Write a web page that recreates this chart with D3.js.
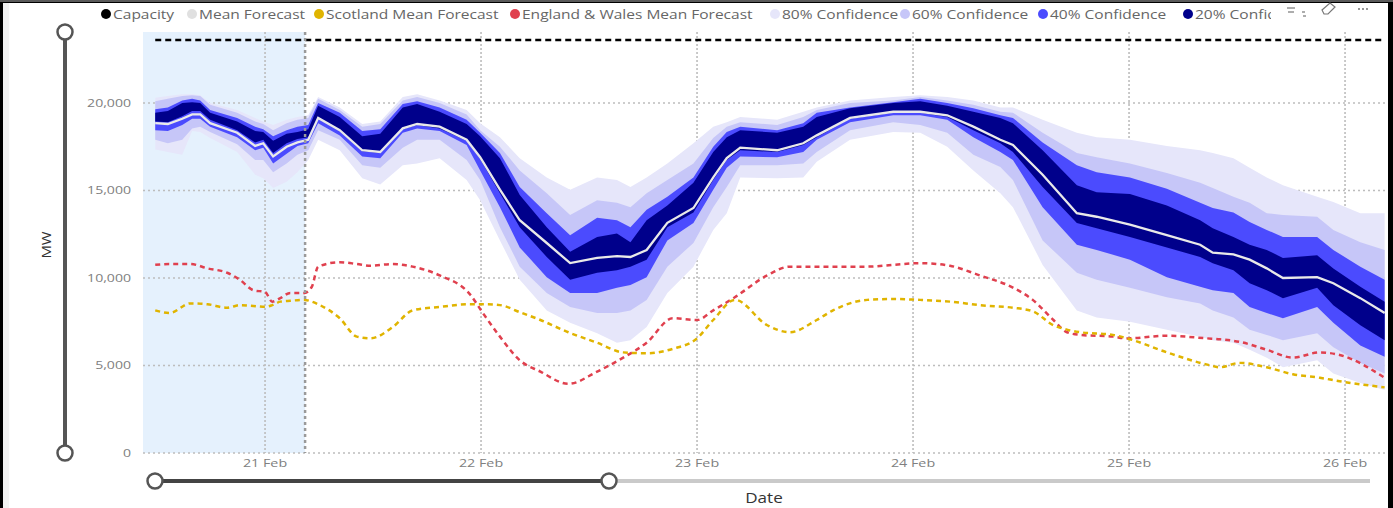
<!DOCTYPE html>
<html><head><meta charset="utf-8">
<script src="https://cdn.jsdelivr.net/npm/d3@7"></script>
<style>
html,body{margin:0;padding:0;background:#fff;overflow:hidden;}
svg{display:block;font-family:"Segoe UI","Open Sans",sans-serif;}
</style></head><body>
<svg id="c" width="1393" height="508"></svg>
<script>
// ---- data (hours are measured from 21 Feb 00:00) ----
const bandHours = [-12.2,-10.8,-9.2,-8.1,-7.2,-6.1,-3.1,-1.1,-0.2,0.9,
 2.4,3.6,4.8,5.9,8.3,10.8,12.8,15.3,16.9,19.4,
 22.4,23.9,26.1,28.3,31.3,33.9,36.9,39.1,40.6,42.4,
 44.7,47.6,49.8,51.3,52.8,56.9,59.8,61.3,65.0,69.8,
 72.8,75.8,78.7,81.7,83.1,86.4,90.2,92.4,96.1,100.2,
 103.9,105.3,107.6,109.4,111.3,113.1,116.9,118.7,121.7,124.4];
const p80hi = [20300,20400,20500,20500,20450,20000,19600,19150,18950,18750,
 19050,19200,19300,20350,19750,18800,18950,20350,20500,20150,
 19600,18850,18050,16850,15750,15050,15750,15600,15200,15750,
 16550,17700,18650,18900,19200,19050,19500,19750,20150,20350,
 20450,20350,20150,19750,19750,19050,18300,18050,17900,17550,
 17300,17150,16850,16300,15750,15300,14650,14350,13700,13700];
const p60hi = [20100,20250,20400,20450,20400,19900,19450,18950,18800,18450,
 18850,19050,19150,20250,19600,18650,18800,20150,20350,20000,
 19350,18450,17500,16150,14850,13600,14450,14300,14050,14850,
 15600,16550,18000,18650,18900,18750,19200,19600,20000,20150,
 20350,20150,19900,19500,19450,18300,17150,16900,16550,16000,
 15450,15150,14650,14300,13700,13600,13500,12750,12050,11600];
const p40hi = [19650,19750,20150,20250,20150,19600,19150,18650,18500,18100,
 18450,18650,18750,20000,19450,18400,18500,19950,20100,19750,
 19050,18300,17150,15200,13700,12450,13450,13300,12900,13900,
 14650,15750,17500,18350,18650,18450,18850,19450,19750,20050,
 20250,20000,19700,19300,19150,17750,16450,16050,15750,15100,
 14300,14000,13750,13200,12750,12350,12350,11600,10650,9900];
const p20hi = [19450,19550,20000,20050,20000,19450,18950,18400,18350,17850,
 18250,18350,18500,19850,19200,18100,18250,19750,19950,19500,
 18800,18100,16850,14750,12900,11500,12350,12550,12050,13300,
 14150,15450,17200,18050,18450,18300,18650,19200,19700,20000,
 20100,19850,19500,19150,18850,17300,15300,14900,14800,14150,
 13300,12850,12350,11900,11600,11150,11300,10550,9500,8650];
const meanForecast = [18850,18800,19100,19350,19350,18850,18300,17550,17700,16950,
 17500,17750,17900,19150,18450,17300,17200,18550,18800,18650,
 17900,16900,15050,13300,12000,10850,11150,11250,11200,11600,
 13150,14000,15750,16850,17450,17300,17700,18150,19150,19500,
 19500,19300,18650,17900,17600,15900,13700,13500,13050,12450,
 11900,11450,11350,11050,10550,10000,10050,9700,8850,8000];
const p20lo = [18950,18900,19250,19550,19550,19050,18450,17750,17900,17150,
 17700,17950,18050,19100,18400,17250,17150,18500,18750,18550,
 17850,16800,14850,12900,11200,9900,10300,10450,10650,11050,
 12900,13750,15600,16750,17300,17200,17600,18050,19100,19450,
 19450,19200,18450,17700,17200,15200,13150,12850,12350,11750,
 11200,10850,10450,9700,9300,8850,9450,8450,7300,6450];
const p40lo = [18450,18400,18750,19100,19100,18650,18050,17300,17450,16550,
 17100,17550,17700,18850,18150,16950,16850,18300,18550,18400,
 17600,16150,14050,11750,10050,9150,9150,9450,9600,10050,
 12150,13150,15050,16300,16950,16900,17200,17900,18900,19300,
 19300,19050,18050,17200,16750,14050,11900,11600,11050,10050,
 9500,9300,9150,8350,8000,7700,8350,7450,6150,5500];
const p60lo = [17900,17700,17900,18550,18650,18350,17650,16750,16750,16050,
 16550,17050,17300,18450,17900,16450,16300,17450,17900,17900,
 16750,15600,12900,10650,9150,8350,8000,8000,8150,8750,
 10650,12000,14050,15200,16450,16450,16550,17200,18450,18900,
 18750,18300,17050,16350,15600,12150,10300,9900,9450,8900,
 8550,8150,7750,7050,6750,6450,6850,6050,5150,4550];
const p80lo = [17350,17200,17050,18400,18350,18000,17200,15900,15700,15150,
 15500,16050,16750,17900,17300,15700,15350,16450,16550,16850,
 15600,14450,12150,9900,8150,7450,6850,6300,6450,7200,
 9150,10650,12750,13700,15750,15700,15750,16650,17900,18350,
 18300,17500,16150,14850,14050,10750,8150,7750,7500,7050,
 6650,6450,6300,5900,5450,4900,5300,4550,4000,3600];

const lineHours = [-12.2,-10.6,-8.3,-6.4,-4.2,-2.8,-1.3,0,0.8,1.7,
 2.8,4.4,5.2,5.9,8.3,10.2,11.7,14.2,16.4,19.4,
 22.8,24.2,26.1,28.3,30.6,33.7,36.9,39.8,42.4,45.3,
 48.0,49.8,52.2,55.8,58.3,61.3,63.1,66.9,69.8,72.8,
 76.1,79.4,83.1,85.3,87.6,89.1,90.6,94.2,95.8,100.2,
 104.7,106.1,108.3,111.3,114.2,117.2,119.4,124.4];
const englandWales = [10750,10800,10800,10550,10300,9900,9300,9200,8650,8850,
 9150,9150,9500,10650,10900,10800,10700,10800,10650,10150,
 9050,8000,6650,5300,4650,3950,4650,5450,6300,7700,
 7600,8150,8900,10150,10650,10650,10650,10650,10750,10850,
 10700,10150,9450,8750,7600,6900,6750,6650,6550,6700,
 6550,6500,6350,5900,5450,5750,5600,4300];
const scotland = [8150,8000,8550,8500,8300,8450,8400,8350,8450,8650,
 8700,8750,8650,8500,7700,6650,6550,7200,8150,8350,
 8500,8500,8450,8050,7600,6900,6300,5750,5700,5950,
 6550,7600,8750,7300,6900,7600,8150,8750,8800,8750,
 8650,8450,8300,8100,7300,7050,6900,6750,6550,5750,
 5050,4900,5150,4900,4500,4300,4100,3750];
const capacityMW = 23600;
const nowHour = 4.45;
const yTickValues = [0, 5000, 10000, 15000, 20000];
const dayTickLabels = ["21 Feb", "22 Feb", "23 Feb", "24 Feb", "25 Feb", "26 Feb"];
const legendNames = ["Capacity","Mean Forecast","Scotland Mean Forecast","England & Wales Mean Forecast","80% Confidence","60% Confidence","40% Confidence","20% Confidence"];
const legendColors = ["#000000","#e0e0e0","#e0b400","#e0404e","#e6e6fa","#c6c6f8","#4b4bfe","#00008b"];

// ---- chart ----
const svg = d3.select("#c");
const W = 1393, H = 508;
const base = new Date(2024, 1, 21, 0, 0);
const toDate = h => new Date(base.getTime() + h * 3600000);
const plot = {left: 143, right: 1385, top: 32, bottom: 453};

const x = d3.scaleTime().domain([toDate(-13.56), toDate(124.44)]).range([plot.left, plot.right]);
const y = d3.scaleLinear().domain([0, 24000]).range([plot.bottom, 33]);

// helper: horizontally stretched text (the reference rendering is wide)
function wideText(parent, tx, ty, str, opts) {
  const gg = parent.append("g").attr("transform", `translate(${tx},${ty}) scale(${opts.sx || 1},1)`);
  return gg.append("text").attr("dy", "0.35em")
    .attr("text-anchor", opts.anchor || "start")
    .attr("font-size", opts.size).attr("fill", opts.fill).text(str);
}

// frame
svg.append("rect").attr("width", W).attr("height", H).attr("fill", "#000");
svg.append("rect").attr("x", 3).attr("y", 3).attr("width", 1385).attr("height", H).attr("fill", "#fff");
svg.append("rect").attr("x", 3).attr("y", 3).attr("width", 6).attr("height", H).attr("fill", "#f3f3f3");
svg.append("rect").attr("x", 0).attr("y", 0).attr("width", W).attr("height", 2).attr("fill", "#5a5a5a");

// past shading
svg.append("rect").attr("x", plot.left).attr("y", plot.top)
  .attr("width", x(toDate(nowHour)) - plot.left).attr("height", plot.bottom - plot.top)
  .attr("fill", "#e5f1fd");

// gridlines
const gridColor = "#bdbdbd";
svg.append("g").selectAll("line").data(yTickValues).join("line")
  .attr("x1", plot.left).attr("x2", plot.right)
  .attr("y1", d => y(d)).attr("y2", d => y(d))
  .attr("stroke", gridColor).attr("stroke-width", 1.6).attr("stroke-dasharray", "2,3");
const days = d3.timeDay.range(new Date(2024,1,21), new Date(2024,1,27));
svg.append("g").selectAll("line").data(days).join("line")
  .attr("x1", d => x(d)).attr("x2", d => x(d))
  .attr("y1", plot.top).attr("y2", plot.bottom)
  .attr("stroke", gridColor).attr("stroke-width", 1.6).attr("stroke-dasharray", "2,2");

// clip
svg.append("clipPath").attr("id", "clip").append("rect")
  .attr("x", plot.left).attr("y", 0).attr("width", plot.right - plot.left).attr("height", plot.bottom);
const g = svg.append("g").attr("clip-path", "url(#clip)");

const idx = d3.range(bandHours.length);
const bands = [
  {lo: p80lo, hi: p80hi, color: legendColors[4]},
  {lo: p60lo, hi: p60hi, color: legendColors[5]},
  {lo: p40lo, hi: p40hi, color: legendColors[6]},
  {lo: p20lo, hi: p20hi, color: legendColors[7]}
];
bands.forEach(b => {
  g.append("path").datum(idx)
    .attr("fill", b.color)
    .attr("d", d3.area().x(i => x(toDate(bandHours[i]))).y0(i => y(b.lo[i])).y1(i => y(b.hi[i])));
});
g.append("path").datum(idx)
  .attr("fill", "none").attr("stroke", "#e9e9e9").attr("stroke-width", 2.3)
  .attr("d", d3.line().x(i => x(toDate(bandHours[i]))).y(i => y(meanForecast[i])));

const lidx = d3.range(lineHours.length);
const lineGen = arr => d3.line().curve(d3.curveMonotoneX)
  .x(i => x(toDate(lineHours[i]))).y(i => y(arr[i]));
g.append("path").datum(lidx).attr("fill", "none").attr("stroke", legendColors[3])
  .attr("stroke-width", 2.5).attr("stroke-dasharray", "5,4").attr("d", lineGen(englandWales));
g.append("path").datum(lidx).attr("fill", "none").attr("stroke", legendColors[2])
  .attr("stroke-width", 2.5).attr("stroke-dasharray", "5,4").attr("d", lineGen(scotland));

// capacity
g.append("line")
  .attr("x1", x(toDate(bandHours[0]))).attr("x2", plot.right)
  .attr("y1", y(capacityMW)).attr("y2", y(capacityMW))
  .attr("stroke", "#000").attr("stroke-width", 2.5).attr("stroke-dasharray", "6,4");

// now line
svg.append("line")
  .attr("x1", x(toDate(nowHour))).attr("x2", x(toDate(nowHour)))
  .attr("y1", plot.top).attr("y2", plot.bottom)
  .attr("stroke", "#9a9a9a").attr("stroke-width", 2.5).attr("stroke-dasharray", "3,3");

// y axis labels
yTickValues.forEach(v => wideText(svg, 131, y(v), d3.format(",")(v),
  {anchor: "end", size: 11, fill: "#808080", sx: 1.28}));
svg.append("g").attr("transform", "translate(46,245) rotate(-90) scale(1.15,1)")
  .append("text").attr("text-anchor", "middle").attr("dy", "0.35em")
  .attr("font-size", 13).attr("fill", "#333").text("MW");

// x axis labels
days.forEach((d, i) => wideText(svg, x(d), 463, dayTickLabels[i],
  {anchor: "middle", size: 11, fill: "#808080", sx: 1.3}));
wideText(svg, 764, 498, "Date", {anchor: "middle", size: 14, fill: "#333", sx: 1.22});

// vertical slider
svg.append("line").attr("x1", 65).attr("x2", 65).attr("y1", 32).attr("y2", 453)
  .attr("stroke", "#555").attr("stroke-width", 4);
[32, 453].forEach(cy => svg.append("circle").attr("cx", 65).attr("cy", cy).attr("r", 7.5)
  .attr("fill", "#fff").attr("stroke", "#555").attr("stroke-width", 2.5));

// horizontal slider
svg.append("line").attr("x1", 609).attr("x2", 1370).attr("y1", 481).attr("y2", 481)
  .attr("stroke", "#cacaca").attr("stroke-width", 4);
svg.append("line").attr("x1", 155).attr("x2", 609).attr("y1", 481).attr("y2", 481)
  .attr("stroke", "#444").attr("stroke-width", 4);
[155, 609].forEach(cx => svg.append("circle").attr("cx", cx).attr("cy", 481).attr("r", 7.5)
  .attr("fill", "#fff").attr("stroke", "#555").attr("stroke-width", 2.5));

// legend
svg.append("clipPath").attr("id", "lclip").append("rect")
  .attr("x", 90).attr("y", 0).attr("width", 1181).attr("height", 30);
const lg = svg.append("g").attr("clip-path", "url(#lclip)");
const legendX = [106, 192, 319, 515, 775, 905, 1043, 1188];
legendNames.forEach((n, i) => {
  lg.append("circle").attr("cx", legendX[i]).attr("cy", 14).attr("r", 5).attr("fill", legendColors[i]);
  wideText(lg, legendX[i] + 7, 14, n, {size: 13.5, fill: "#666", sx: 1.15});
});

// header icons
const ic = svg.append("g").attr("stroke", "#777").attr("stroke-width", 1.2).attr("fill", "none");
ic.append("line").attr("x1", 1287).attr("x2", 1295).attr("y1", 8).attr("y2", 8);
ic.append("line").attr("x1", 1288).attr("x2", 1294).attr("y1", 12).attr("y2", 12);
ic.append("line").attr("x1", 1302).attr("x2", 1305).attr("y1", 12).attr("y2", 12);
ic.append("line").attr("x1", 1303).attr("x2", 1306).attr("y1", 16).attr("y2", 16);
ic.append("path").attr("d", "M1322,10 L1330,3 L1335,7 L1328,14 L1324,14 Z");
[1359, 1363, 1367].forEach(cx => svg.append("circle").attr("cx", cx).attr("cy", 9).attr("r", 0.9).attr("fill", "#666"));
</script>
</body></html>
